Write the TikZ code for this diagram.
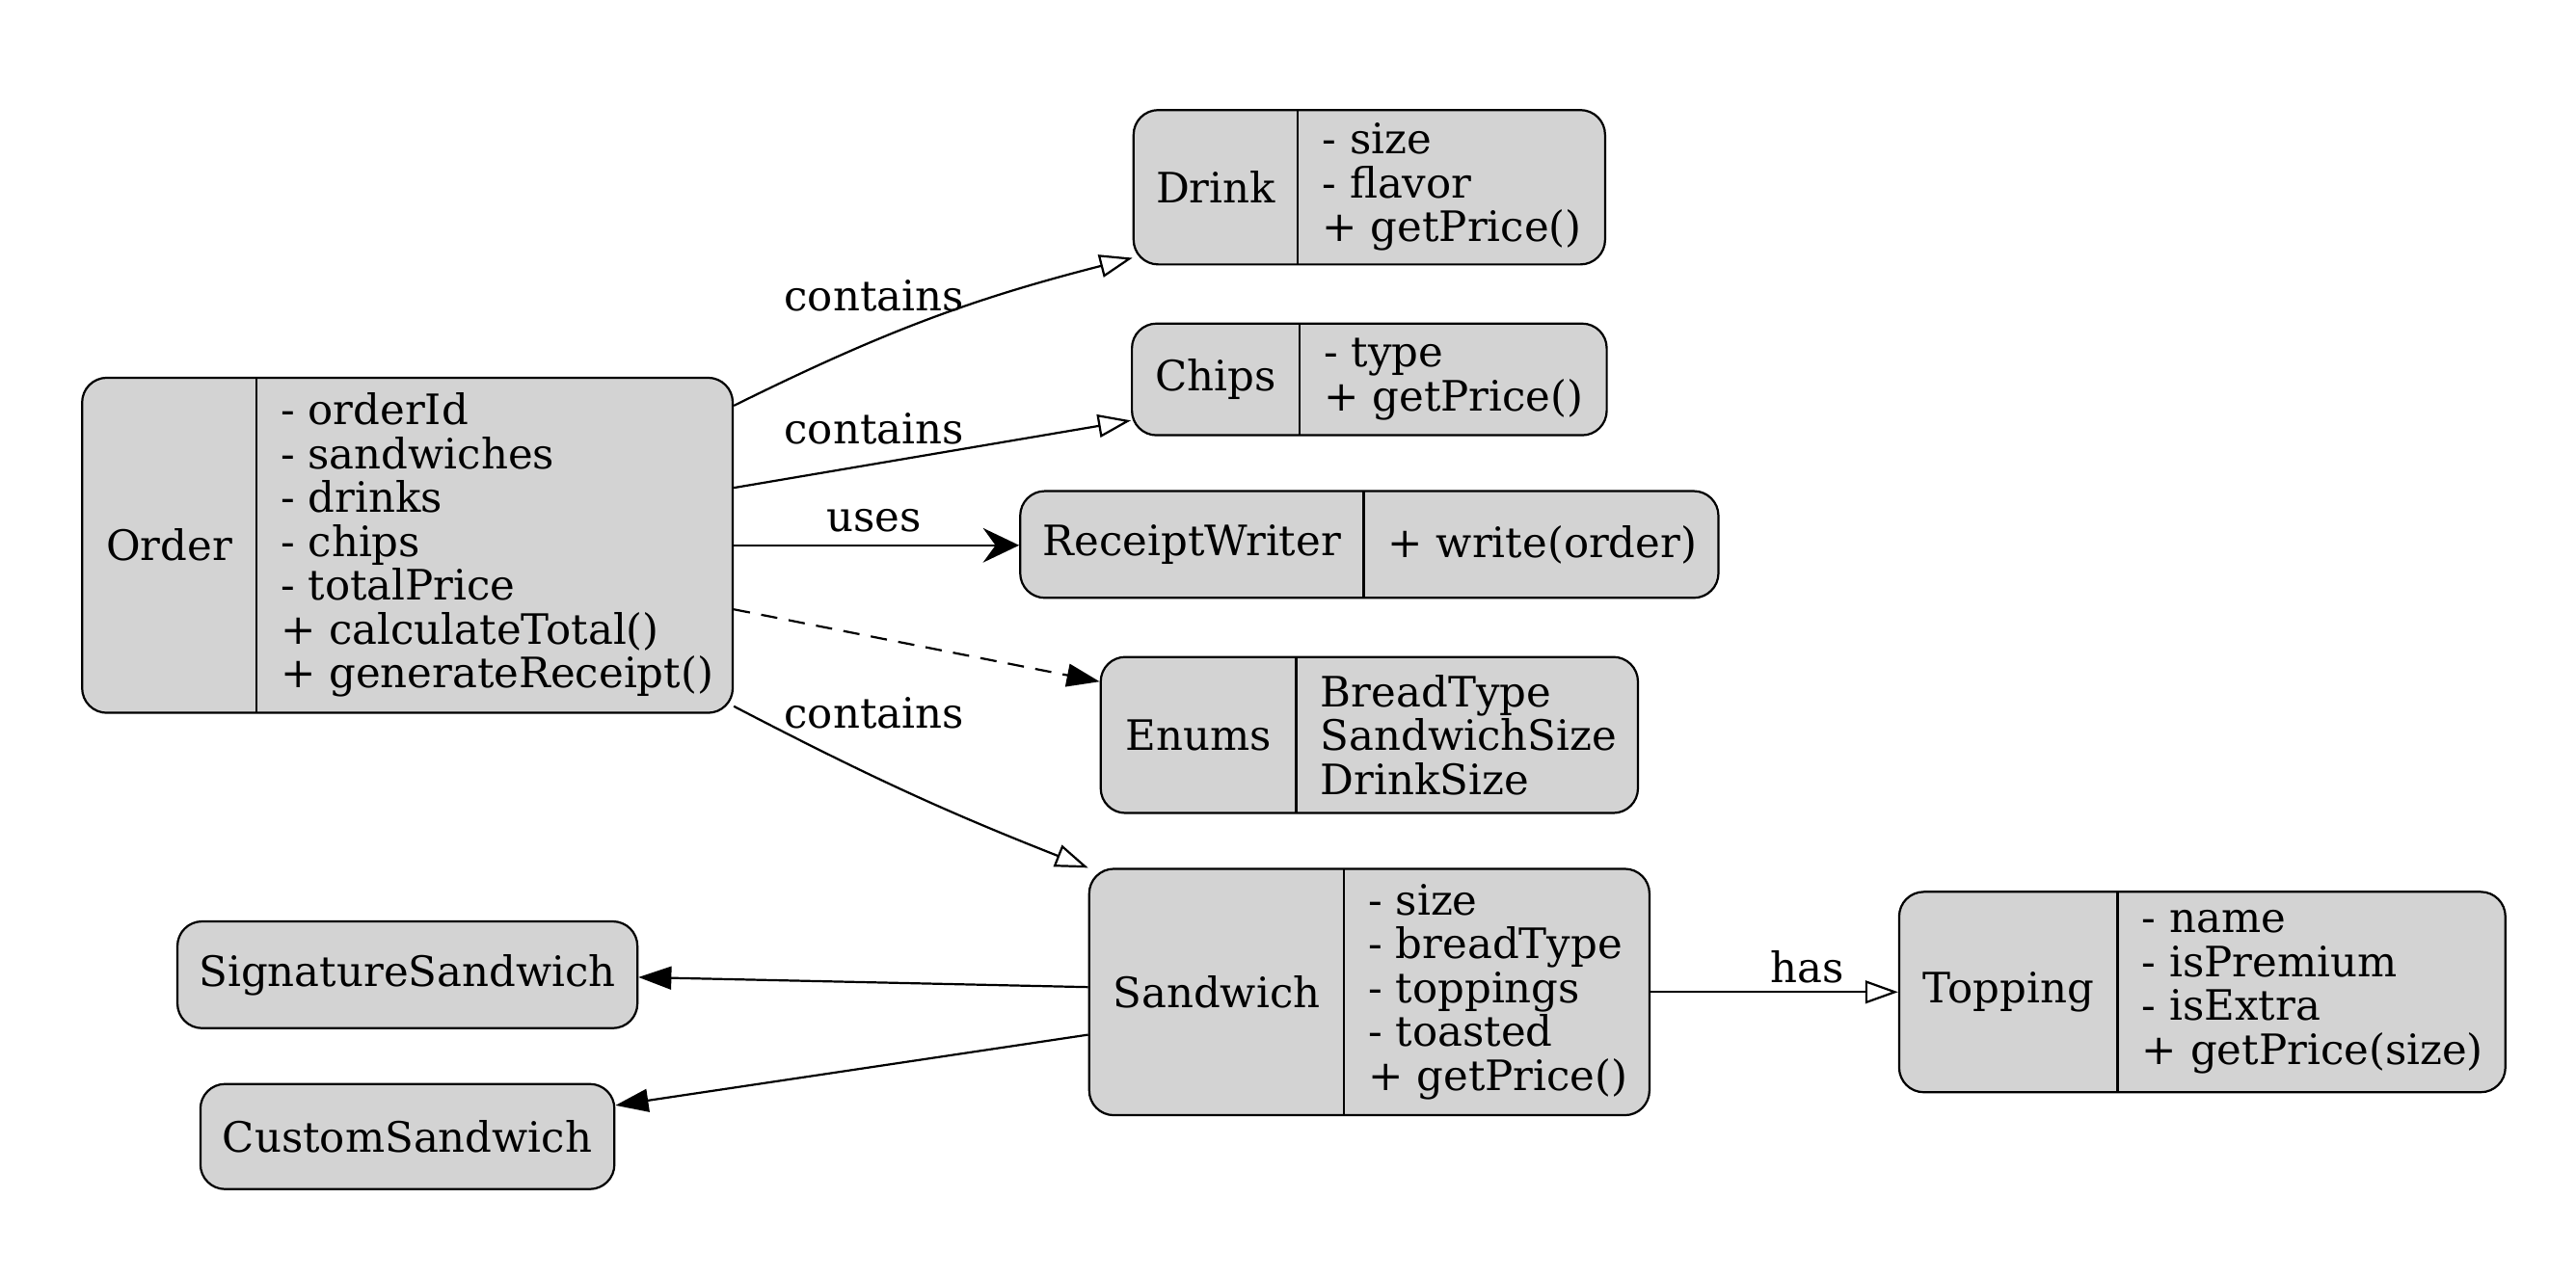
\documentclass[tikz,border=0pt]{standalone}
\usepackage{fontspec}
\setmainfont{DejaVu Serif}
\usetikzlibrary{calc}
\usetikzlibrary{arrows.meta}
\definecolor{recordcolor}{RGB}{211, 211, 211}
\newcommand{\recordfont}{\fontsize{12.75pt}{13.35pt}\selectfont}
\tikzstyle{recordbox} = [draw, line width=0.65pt, fill=recordcolor, rounded corners=7.5pt, inner sep=0pt, font=\recordfont]
\tikzstyle{recordtext} = [inner sep=0pt, font=\recordfont, text=black]
\tikzstyle{edgelabel} = [inner sep=0pt, font=\recordfont]
\tikzstyle{contains} = [-{Triangle[open, length=10pt, width=7pt]}, line width=0.65pt]
\tikzstyle{uses} = [-{Stealth[length=11pt, width=10.5pt, inset=3.8pt]}, line width=0.65pt]
\tikzstyle{depends} = [-{Triangle[length=10pt, width=7pt]}, line width=0.65pt, dash pattern=on 5pt off 3.5pt]
\tikzstyle{derives} = [-{Triangle[length=10pt, width=7pt]}, line width=0.65pt]
\tikzset{
	record/.pic={
		\tikzset{%
			/record/.cd,
			#1
		}

		% record layout, centre at (0,0)
		%
		% +-------+-----------+
		% |       | - field   |
		% | title | - field   |
		% |       | + method  |
		% +-------+-----------+
		%  <split>

		% Outer box, named for the connectors
		\node[recordbox, minimum width=\rwidth*0.5pt, minimum height=\rheight*0.5pt] (\rlabel) at (0,0) {};

		% Divider
		\draw[line width=0.65pt] ({\rsplit-\rwidth/2}, {-\rheight/2}) -- ({\rsplit-\rwidth/2}, {\rheight/2});

		% Texts
		\node[recordtext] (\rlabel-title) at ({\rsplit/2-\rwidth/2}, 0) {\rtitle};
		\node[recordtext, anchor=west, align=left] (\rlabel-fields) at ({\rsplit-\rwidth/2+14.5}, 0) {\rfields};
	},
	/record/.search also={/tikz},
	/record/.cd,
	width/.store in=\rwidth,
	height/.store in=\rheight,
	split/.store in=\rsplit,
	title/.store in=\rtitle,
	fields/.store in=\rfields,
	label/.store in=\rlabel,
	width=200,
	height=60,
	split=100,
	title=,
	fields=,
	label=dummy,
}

\begin{document}
\begin{tikzpicture}[x=0.5pt, y=-0.5pt]

	\useasboundingbox (0,0) rectangle (1568,778);

	%
	% Order and what it points to

	% Records
	\pic at (248,332) {record={width=396, height=204, split=106, label=order, title=Order,
		fields={- orderId\\- sandwiches\\- drinks\\- chips\\- totalPrice\\+ calculateTotal()\\+ generateReceipt()}}};
	\pic at (833.5,114) {record={width=287, height=94, split=100, label=drink, title=Drink,
		fields={- size\\- flavor\\+ getPrice()}}};
	\pic at (833.5,231) {record={width=289, height=68, split=102, label=chips, title=Chips,
		fields={- type\\+ getPrice()}}};
	\pic at (833.5,331.5) {record={width=425, height=65, split=209, label=writer, title=ReceiptWriter,
		fields={+ write(order)}}};
	\pic at (833.5,447.5) {record={width=327, height=95, split=119, label=enums, title=Enums,
		fields={BreadType\\SandwichSize\\DrinkSize}}};

	% Arrows
	\draw[contains] ([yshift=42.5pt]order.east) to[bend left=6] ([yshift=-21.5pt]drink.west);
	\draw[contains] ([yshift=17.5pt]order.east) -- ([yshift=-12.5pt]chips.west);
	\draw[uses] (order.east) -- (order.east -| writer.west);
	\draw[depends] ([yshift=-19.5pt]order.east) -- ([yshift=16.25pt]enums.west);

	% Labels
	\node[edgelabel] (contains-drink) at (532,180) {contains};
	\node[edgelabel] (contains-chips) at (532,261) {contains};
	\node[edgelabel] (uses-writer) at (532,317) {uses};
	\node[edgelabel] (contains-sandwich) at (532,434) {contains};

	%
	% Sandwich and its kinds

	% Records
	\pic at (833.5,604) {record={width=341, height=150, split=155, label=sandwich, title=Sandwich,
		fields={- size\\- breadType\\- toppings\\- toasted\\+ getPrice()}}};
	\pic at (1340.5,604) {record={width=369, height=122, split=133, label=topping, title=Topping,
		fields={- name\\- isPremium\\- isExtra\\+ getPrice(size)}}};
	\node[recordbox, minimum width=140pt, minimum height=32.5pt] (signature) at (248,593.5) {SignatureSandwich};
	\node[recordbox, minimum width=126pt, minimum height=32pt] (custom) at (248,692) {CustomSandwich};

	% Arrows
	\draw[contains] ([yshift=-49pt]order.east) to[bend right=3] (sandwich.north west);
	\draw[contains] (sandwich.east) -- (topping.west);
	\draw[derives] ([yshift=1.5pt]sandwich.west) -- ([yshift=-0.75pt]signature.east);
	\draw[derives] ([yshift=-13pt]sandwich.west) -- ([yshift=9.5pt]custom.east);

	% Label
	\node[edgelabel] (has-topping) at (1100,589) {has};

\end{tikzpicture}
\end{document}
